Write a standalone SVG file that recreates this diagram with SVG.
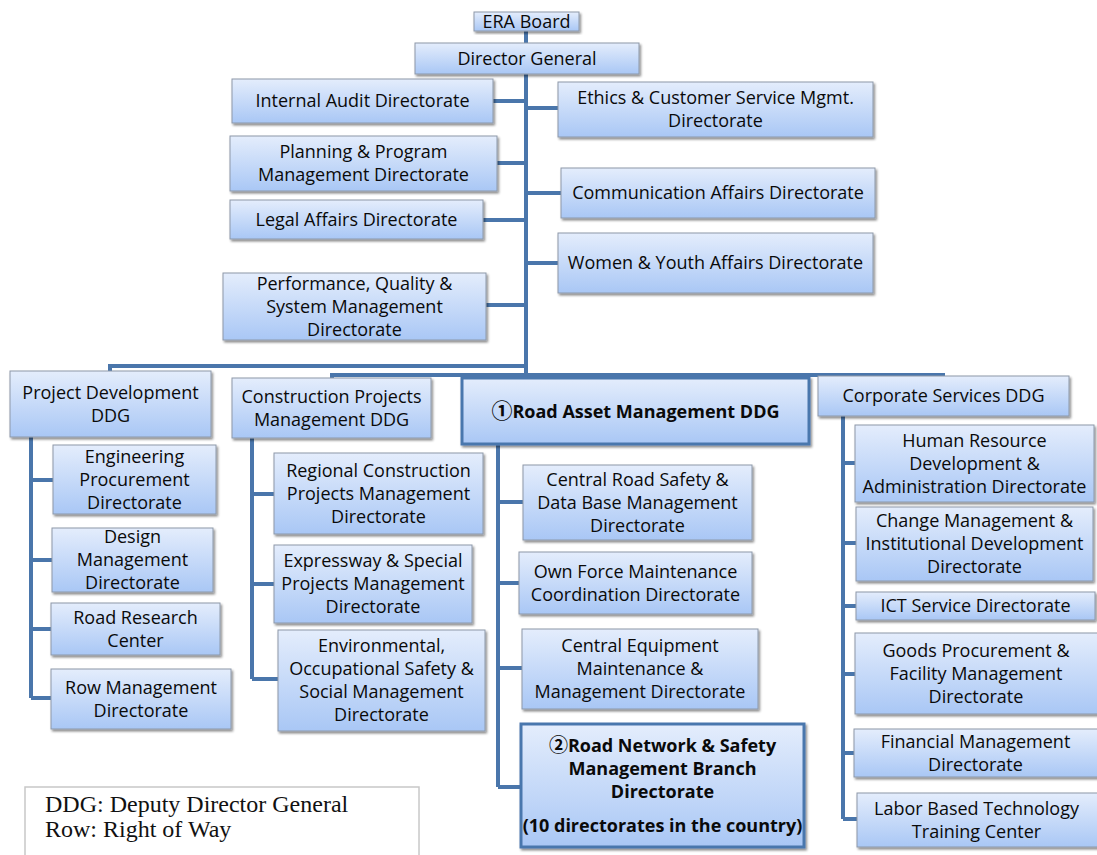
<svg xmlns="http://www.w3.org/2000/svg" width="1097" height="855" viewBox="0 0 1097 855">
<defs>
<linearGradient id="g" x1="0" y1="0" x2="0" y2="1">
<stop offset="0" stop-color="#e4edfc"/>
<stop offset="1" stop-color="#a9c7f5"/>
</linearGradient>
<filter id="sh" x="-10%" y="-10%" width="120%" height="130%">
<feDropShadow dx="1.5" dy="2" stdDeviation="1.2" flood-color="#000" flood-opacity="0.45"/>
</filter>
<style>
.box{fill:url(#g);stroke:#8d98a8;stroke-width:1;filter:url(#sh)}
.hl{stroke:#4a77ad;stroke-width:3}
.t{font-family:"Open Sans","DejaVu Sans","Noto Sans CJK JP",sans-serif;font-size:18px;text-anchor:middle;fill:#0a0a0a}
.b{font-weight:bold}
.cj{font-family:"Noto Sans CJK JP","DejaVu Sans",sans-serif;font-weight:bold}
.c{fill:none;stroke:#4a76ab;stroke-width:4}
.lg{font-family:"Liberation Serif",serif;font-size:24px;fill:#111}
</style>
</defs>
<rect width="1097" height="855" fill="#fff"/>
<g id="connectors" class="c">
<path d="M526 31V375"/>
<path d="M493 101H526M497 163H526M483 220H526M486 305H526"/>
<path d="M526 108H558M526 193H561M526 263H558"/>
<path d="M526 366H110V371"/>
<path d="M332 378V375H943V376"/>
<path d="M31 437V698M31 480H53M31 560H52M31 629H51M31 698H51"/>
<path d="M252 438V679M252 494H274M252 584H274M252 679H278"/>
<path d="M498 444V787M498 502H523M498 583H519M498 668H522M498 787H521"/>
<path d="M843 416V819M843 463H855M843 543H856M843 606H856M843 674H855M843 753H854M843 819H857"/>
</g>
<g id="era-board"><rect class="box" x="474" y="12" width="105" height="19"/><text class="t" x="526.5" y="28">ERA Board</text></g>
<g id="director-general"><rect class="box" x="415" y="43" width="224" height="31"/><text class="t" x="527" y="64.5">Director General</text></g>
<g id="internal-audit"><rect class="box" x="232" y="79" width="261" height="44"/><text class="t" x="362.5" y="107">Internal Audit Directorate</text></g>
<g id="planning"><rect class="box" x="230" y="136" width="267" height="55"/><text class="t" x="363.5" y="158">Planning &amp; Program</text><text class="t" x="363.5" y="181">Management Directorate</text></g>
<g id="legal"><rect class="box" x="230" y="200" width="253" height="39"/><text class="t" x="356.5" y="225.5">Legal Affairs Directorate</text></g>
<g id="performance"><rect class="box" x="223" y="273" width="263" height="67"/><text class="t" x="354.5" y="289.5">Performance, Quality &amp;</text><text class="t" x="354.5" y="312.5">System Management</text><text class="t" x="354.5" y="335.5">Directorate</text></g>
<g id="ethics"><rect class="box" x="558" y="82" width="315" height="55"/><text class="t" x="715.5" y="104">Ethics &amp; Customer Service Mgmt.</text><text class="t" x="715.5" y="127">Directorate</text></g>
<g id="communication"><rect class="box" x="561" y="168" width="314" height="50"/><text class="t" x="718" y="199">Communication Affairs Directorate</text></g>
<g id="women-youth"><rect class="box" x="558" y="233" width="315" height="60"/><text class="t" x="715.5" y="269">Women &amp; Youth Affairs Directorate</text></g>
<g id="project-development"><rect class="box" x="10" y="371" width="201" height="66"/><text class="t" x="110.5" y="398.5">Project Development</text><text class="t" x="110.5" y="421.5">DDG</text></g>
<g id="engineering-procurement"><rect class="box" x="53" y="445" width="163" height="69"/><text class="t" x="134.5" y="462.5">Engineering</text><text class="t" x="134.5" y="485.5">Procurement</text><text class="t" x="134.5" y="508.5">Directorate</text></g>
<g id="design-management"><rect class="box" x="52" y="528" width="161" height="64"/><text class="t" x="132.5" y="543">Design</text><text class="t" x="132.5" y="566">Management</text><text class="t" x="132.5" y="589">Directorate</text></g>
<g id="road-research"><rect class="box" x="51" y="603" width="169" height="52"/><text class="t" x="135.5" y="623.5">Road Research</text><text class="t" x="135.5" y="646.5">Center</text></g>
<g id="row-management"><rect class="box" x="51" y="669" width="180" height="60"/><text class="t" x="141" y="693.5">Row Management</text><text class="t" x="141" y="716.5">Directorate</text></g>
<g id="construction-projects"><rect class="box" x="232" y="378" width="199" height="60"/><text class="t" x="331.5" y="402.5">Construction Projects</text><text class="t" x="331.5" y="425.5">Management DDG</text></g>
<g id="regional-construction"><rect class="box" x="274" y="453" width="209" height="81"/><text class="t" x="378.5" y="476.5">Regional Construction</text><text class="t" x="378.5" y="499.5">Projects Management</text><text class="t" x="378.5" y="522.5">Directorate</text></g>
<g id="expressway"><rect class="box" x="274" y="545" width="198" height="78"/><text class="t" x="373" y="567">Expressway &amp; Special</text><text class="t" x="373" y="590">Projects Management</text><text class="t" x="373" y="613">Directorate</text></g>
<g id="environmental"><rect class="box" x="278" y="630" width="207" height="101"/><text class="t" x="381.5" y="652">Environmental,</text><text class="t" x="381.5" y="675">Occupational Safety &amp;</text><text class="t" x="381.5" y="698">Social Management</text><text class="t" x="381.5" y="721">Directorate</text></g>
<g id="road-asset"><rect class="box hl" x="462" y="378" width="347" height="66"/><text class="t b" x="635.5" y="418" font-size="19"><tspan class="cj" font-size="21">①</tspan>Road Asset Management DDG</text></g>
<g id="central-road-safety"><rect class="box" x="523" y="465" width="229" height="75"/><text class="t" x="637.5" y="485.5">Central Road Safety &amp;</text><text class="t" x="637.5" y="508.5">Data Base Management</text><text class="t" x="637.5" y="531.5">Directorate</text></g>
<g id="own-force"><rect class="box" x="519" y="552" width="233" height="62"/><text class="t" x="635.5" y="577.5">Own Force Maintenance</text><text class="t" x="635.5" y="600.5">Coordination Directorate</text></g>
<g id="central-equipment"><rect class="box" x="522" y="629" width="236" height="80"/><text class="t" x="640" y="652">Central Equipment</text><text class="t" x="640" y="675">Maintenance &amp;</text><text class="t" x="640" y="698">Management Directorate</text></g>
<g id="road-network"><rect class="box hl" x="521" y="724" width="283" height="123"/><text class="t b" x="662.5" y="752" font-size="17"><tspan class="cj" font-size="19">②</tspan>Road Network &amp; Safety</text><text class="t b" x="662.5" y="775" font-size="17">Management Branch</text><text class="t b" x="662.5" y="798" font-size="17">Directorate</text><text class="t b" x="662.5" y="832" font-size="16.5">(10 directorates in the country)</text></g>
<g id="corporate-services"><rect class="box" x="818" y="376" width="251" height="40"/><text class="t" x="943.5" y="402">Corporate Services DDG</text></g>
<g id="human-resource"><rect class="box" x="855" y="425" width="239" height="77"/><text class="t" x="974.5" y="446.5">Human Resource</text><text class="t" x="974.5" y="469.5">Development &amp;</text><text class="t" x="974.5" y="492.5">Administration Directorate</text></g>
<g id="change-management"><rect class="box" x="856" y="507" width="237" height="74"/><text class="t" x="974.5" y="527">Change Management &amp;</text><text class="t" x="974.5" y="550">Institutional Development</text><text class="t" x="974.5" y="573">Directorate</text></g>
<g id="ict-service"><rect class="box" x="856" y="592" width="239" height="28"/><text class="t" x="975.5" y="612">ICT Service Directorate</text></g>
<g id="goods-procurement"><rect class="box" x="855" y="633" width="244" height="81"/><text class="t" x="976" y="656.5">Goods Procurement &amp;</text><text class="t" x="976" y="679.5">Facility Management</text><text class="t" x="976" y="702.5">Directorate</text></g>
<g id="financial-management"><rect class="box" x="854" y="729" width="245" height="48"/><text class="t" x="975.5" y="747.5">Financial Management</text><text class="t" x="975.5" y="770.5">Directorate</text></g>
<g id="labor-based"><rect class="box" x="857" y="793" width="242" height="54"/><text class="t" x="976.5" y="814.5">Labor Based Technology</text><text class="t" x="976.5" y="837.5">Training Center</text></g>
<g id="legend"><rect x="25" y="787" width="394" height="80" fill="#fff" stroke="#c8c8c8" stroke-width="1.5"/><text class="lg" x="45" y="812">DDG: Deputy Director General</text><text class="lg" x="45" y="837">Row: Right of Way</text></g>
</svg>
